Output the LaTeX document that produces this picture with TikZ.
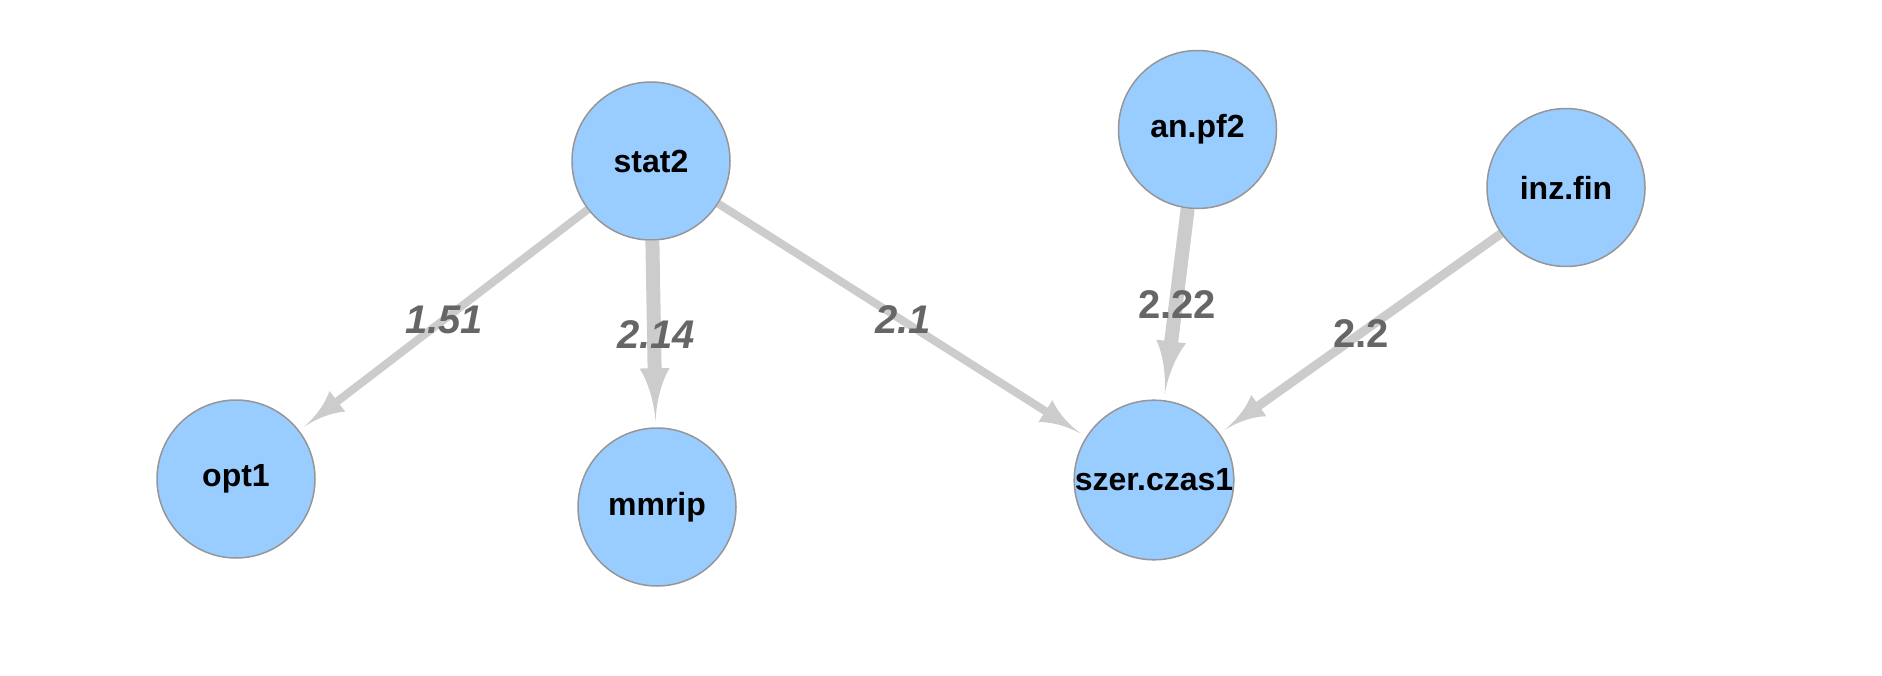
\documentclass[tikz,border=0pt]{standalone}
\usepackage{fontspec}
\setmainfont{Liberation Sans}
\usetikzlibrary{arrows.meta}
\pgfdeclarelayer{background}
\pgfsetlayers{background,main}
\definecolor{nodefill}{RGB}{153,204,255}
\definecolor{nodeborder}{RGB}{150,150,150}
\definecolor{edgecol}{RGB}{204,204,204}
\definecolor{labelcol}{RGB}{102,102,102}
\pgfdeclarearrow{
  name = Vis,
  defaults = {length = 50pt, width = 28pt},
  setup code = {
    \pgfarrowssettipend{0pt}
    \pgfarrowssetlineend{-.7\pgfarrowlength}
    \pgfarrowssetbackend{-\pgfarrowlength}
    \pgfarrowssavethe\pgfarrowlength
    \pgfarrowssavethe\pgfarrowwidth
  },
  parameters = {\the\pgfarrowlength,\the\pgfarrowwidth},
  drawing code = {
    \pgfpathmoveto{\pgfpointorigin}
    \pgfpathcurveto{\pgfpoint{-.45\pgfarrowlength}{.05\pgfarrowwidth}}{\pgfpoint{-.8\pgfarrowlength}{.28\pgfarrowwidth}}{\pgfpoint{-\pgfarrowlength}{.5\pgfarrowwidth}}
    \pgfpathlineto{\pgfpoint{-\pgfarrowlength}{-.5\pgfarrowwidth}}
    \pgfpathcurveto{\pgfpoint{-.8\pgfarrowlength}{-.28\pgfarrowwidth}}{\pgfpoint{-.45\pgfarrowlength}{-.05\pgfarrowwidth}}{\pgfpointorigin}
    \pgfpathclose
    \pgfusepathqfill
  }
}
\tikzset{
  vnode/.style={circle, draw=nodeborder, line width=1.5pt, fill=nodefill,
    minimum size=158pt, inner sep=0pt, font=\fontsize{32}{38}\selectfont\bfseries},
  thinedge/.style={draw=edgecol, line width=8pt, shorten >=6pt,
    -{Vis[length=42pt,width=26pt]}},
  thickedge/.style={draw=edgecol, line width=14pt, shorten >=6pt,
    -{Vis[length=53pt,width=30pt]}},
  elabel/.style={text=labelcol, font=\fontsize{40}{48}\selectfont\bfseries, inner sep=0pt},
  elabeli/.style={elabel, font=\fontsize{40}{48}\selectfont\bfseries\itshape}
}
\begin{document}
\begin{tikzpicture}[x=1pt,y=-1pt]
\useasboundingbox (0,0) rectangle (1882,676);
\node[vnode] (stat2) at (651,161) {stat2};
\node[vnode] (anpf2) at (1197.5,129.5) {an.pf2};
\node[vnode] (inzfin) at (1566,187.5) {inz.fin};
\node[vnode] (opt1) at (236,479) {opt1};
\node[vnode] (mmrip) at (657,507) {mmrip};
\node[vnode] (szer) at (1154,480) {szer.czas1};
\begin{pgfonlayer}{background}
\draw[thinedge] (stat2) -- (opt1);
\draw[thickedge] (stat2) -- (mmrip);
\draw[thinedge] (stat2) -- (szer);
\draw[thickedge] (anpf2) -- (szer);
\draw[thinedge, line width=9pt] (inzfin) -- (szer);
\end{pgfonlayer}
\node[elabeli] (l1) at (444,320) {1.51};
\node[elabeli] (l2) at (656,335) {2.14};
\node[elabeli] (l3) at (903,320) {2.1};
\node[elabel] (l4) at (1177,305) {2.22};
\node[elabel] (l5) at (1361,334) {2.2};
\end{tikzpicture}
\end{document}
